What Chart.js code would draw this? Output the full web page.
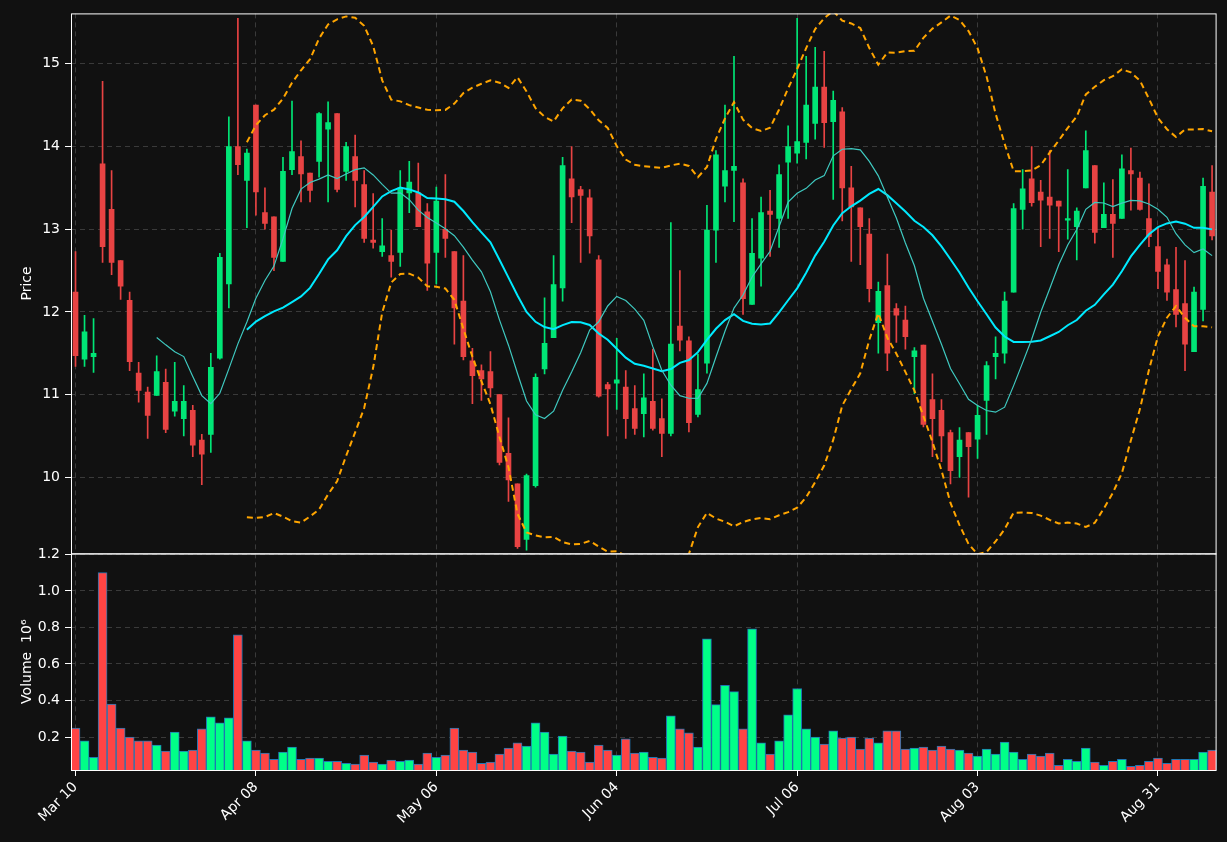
<!DOCTYPE html>
<html>
<head>
<meta charset="utf-8">
<script src="https://cdn.jsdelivr.net/npm/chart.js@4.4.0/dist/chart.umd.min.js"></script>
<style>
  html, body { margin: 0; padding: 0; background: #111111; }
  #wrap { width: 1227px; height: 842px; }
</style>
</head>
<body>
<div id="wrap"><canvas id="chart" width="1227" height="842"></canvas></div>
<script>
// one entry per trading day
const opens  = [12.24,11.43,11.46,13.79,13.24,12.62,12.14,11.26,11.03,10.99,11.15,10.80,10.71,10.81,10.45,10.52,11.44,12.34,14.00,13.59,
                14.50,13.20,13.15,12.61,13.72,13.88,13.68,13.82,14.21,14.40,13.70,13.88,13.54,12.87,12.73,12.68,12.72,13.44,13.44,13.21,
                12.72,13.00,12.73,12.13,11.41,11.29,11.28,11.00,10.29,9.92,9.25,9.90,11.31,11.69,12.29,13.61,13.48,13.38,12.63,11.12,
                11.14,11.09,10.83,10.77,10.92,10.71,10.53,11.83,11.65,10.76,11.38,12.99,13.52,13.71,13.56,12.09,12.65,13.22,13.13,13.81,
                13.92,14.05,14.28,14.72,14.30,14.42,13.50,13.26,12.94,11.87,12.32,12.04,11.90,11.46,11.60,10.94,10.81,10.54,10.25,10.54,
                10.46,10.93,11.46,11.50,12.24,13.24,13.61,13.45,13.39,13.34,13.11,13.03,13.50,13.77,13.02,13.18,13.13,13.71,13.62,13.13,
                12.79,12.57,12.27,12.10,11.52,12.03,13.45];
const highs  = [12.73,11.96,11.92,14.79,13.71,12.62,12.24,11.39,11.09,11.47,11.31,11.39,11.11,10.87,10.52,11.50,12.71,14.36,15.55,13.97,
                14.50,13.50,13.15,13.87,14.55,14.07,13.68,14.41,14.54,14.40,14.05,14.14,13.71,13.43,13.13,12.99,13.71,13.82,13.80,13.31,
                13.51,13.66,12.73,12.68,11.56,11.36,11.52,11.00,10.72,9.92,10.04,11.25,12.17,12.68,13.87,14.00,13.52,13.48,12.68,11.15,
                11.68,11.29,11.11,11.25,11.55,10.95,13.08,12.50,11.70,11.49,13.29,13.95,14.50,15.09,13.61,13.13,13.39,13.47,13.78,14.25,
                15.55,15.09,15.20,15.15,14.67,14.47,13.76,13.26,13.13,12.36,12.70,12.10,12.07,11.57,11.60,11.25,10.94,10.57,10.60,10.54,
                10.87,11.40,11.70,12.24,13.31,13.72,14.00,13.59,13.95,13.34,13.72,13.26,14.19,13.77,13.56,13.60,13.90,13.98,13.69,13.55,
                13.01,12.64,12.78,12.62,12.30,13.62,13.77];
const lows   = [11.34,11.34,11.27,12.60,12.45,12.15,11.29,10.91,10.47,10.99,10.54,10.74,10.50,10.25,9.91,10.30,11.43,12.05,13.66,13.02,
                13.17,13.00,12.50,12.61,13.66,13.33,13.33,13.63,13.33,13.45,13.59,13.27,12.84,12.77,12.67,12.42,12.55,13.20,13.03,12.26,
                12.34,12.66,11.61,11.42,10.89,10.93,10.97,10.15,9.71,9.14,9.12,9.88,11.25,11.69,12.13,13.08,12.60,12.71,10.97,10.50,
                10.82,10.47,10.52,10.49,10.57,10.25,10.50,11.53,10.55,10.73,11.26,12.60,13.33,13.09,11.97,12.09,12.31,12.67,12.78,13.13,
                13.80,13.85,14.09,13.99,13.36,13.10,12.61,12.57,12.12,11.50,11.29,11.63,11.55,11.01,10.61,10.25,10.19,9.92,10.00,9.76,
                10.23,10.52,11.19,11.38,12.24,13.00,13.28,12.79,12.89,12.73,12.88,12.63,13.50,12.83,13.02,12.66,13.13,13.23,13.23,12.79,
                12.28,12.14,11.82,11.29,11.52,11.89,12.87];
const closes = [11.47,11.76,11.50,12.79,12.60,12.31,11.40,11.05,10.75,11.28,10.58,10.92,10.92,10.39,10.28,11.33,12.66,14.00,13.78,13.92,
                13.45,13.07,12.66,13.70,13.94,13.67,13.47,14.40,14.29,13.48,14.00,13.59,12.89,12.84,12.80,12.61,13.50,13.57,13.03,12.59,
                13.34,12.89,12.05,11.46,11.23,11.19,11.08,10.18,9.97,9.16,10.02,11.21,11.62,12.33,13.77,13.39,13.41,12.92,10.98,11.07,
                11.18,10.71,10.59,10.96,10.59,10.53,11.61,11.66,10.66,11.06,12.99,13.90,13.71,13.76,12.16,12.71,13.20,13.18,13.66,14.00,
                14.06,14.50,14.72,14.29,14.56,13.50,13.27,13.03,12.28,12.25,11.50,11.96,11.70,11.53,10.64,10.71,10.50,10.08,10.45,10.37,
                10.75,11.35,11.50,12.13,13.25,13.49,13.32,13.35,13.29,13.28,13.13,13.22,13.95,12.96,13.18,13.07,13.73,13.67,13.24,12.91,
                12.49,12.24,11.97,11.61,12.24,13.52,12.92];
// volume in millions
const volumes = [0.25,0.18,0.09,1.10,0.38,0.25,0.20,0.18,0.18,0.157,0.123,0.228,0.123,0.129,0.245,0.311,0.278,0.306,0.759,0.18,
                 0.129,0.112,0.079,0.118,0.145,0.079,0.085,0.085,0.068,0.068,0.057,0.052,0.101,0.063,0.052,0.074,0.068,0.074,0.052,0.112,
                 0.09,0.101,0.25,0.129,0.118,0.057,0.063,0.107,0.14,0.168,0.151,0.278,0.228,0.107,0.206,0.123,0.118,0.063,0.157,0.129,
                 0.101,0.19,0.112,0.118,0.09,0.085,0.317,0.245,0.223,0.145,0.737,0.378,0.483,0.449,0.245,0.792,0.168,0.107,0.18,0.322,
                 0.466,0.245,0.20,0.162,0.234,0.195,0.20,0.134,0.195,0.168,0.234,0.234,0.134,0.14,0.145,0.129,0.151,0.134,0.129,0.112,
                 0.096,0.134,0.107,0.173,0.118,0.079,0.107,0.096,0.112,0.046,0.079,0.068,0.14,0.063,0.046,0.068,0.079,0.04,0.046,0.068,
                 0.085,0.057,0.079,0.079,0.079,0.118,0.129];

const dateTicks = ["Mar 10", "Apr 08", "May 06", "Jun 04", "Jul 06", "Aug 03", "Aug 31"];
const priceTicks = [10, 11, 12, 13, 14, 15];
const volumeTicks = [0.2, 0.4, 0.6, 0.8, 1.0, 1.2];

const UP = "#00e676", DOWN = "#e84343";
const VUP = "#00ff88", VDOWN = "#ff4444";

const n = closes.length;
const labels = closes.map((_, i) => i);
const isUp = i => closes[i] >= opens[i];

// moving averages and bands from the closes
function sma(p) {
  return closes.map((_, i) => {
    if (i < p - 1) return null;
    let s = 0;
    for (let j = i - p + 1; j <= i; j++) s += closes[j];
    return s / p;
  });
}
const ma10 = sma(10);
const ma20 = sma(20);
const bbUpper = [], bbLower = [];
for (let i = 0; i < n; i++) {
  if (ma20[i] === null) { bbUpper.push(null); bbLower.push(null); continue; }
  let v = 0;
  for (let j = i - 19; j <= i; j++) v += (closes[j] - ma20[i]) ** 2;
  const sd = Math.sqrt(v / 20);
  bbUpper.push(ma20[i] + 2 * sd);
  bbLower.push(ma20[i] - 2 * sd);
}

const gridDash = { display: true, color: "#3a3a3a", lineWidth: 1 };

// white frame around each pane
const framePlugin = {
  id: "frames",
  afterDraw(c) {
    const a = c.chartArea, ctx = c.ctx;
    ctx.save();
    ctx.strokeStyle = "#ffffff";
    ctx.lineWidth = 1;
    ["y", "y2"].forEach(id => {
      const s = c.scales[id];
      ctx.strokeRect(a.left + 0.5, s.top + 0.5, a.right - a.left - 1, s.bottom - s.top);
    });
    ctx.restore();
  }
};

Chart.defaults.font.family = "'DejaVu Sans', sans-serif";
Chart.defaults.font.size = 14;
Chart.defaults.color = "#ffffff";

new Chart(document.getElementById("chart"), {
  data: {
    labels: labels,
    datasets: [
      { type: "line", label: "BB upper", data: bbUpper, yAxisID: "y", borderColor: "#ffa500", borderWidth: 2,
        borderDash: [6, 4], pointRadius: 0, tension: 0, order: 1 },
      { type: "line", label: "BB lower", data: bbLower, yAxisID: "y", borderColor: "#ffa500", borderWidth: 2,
        borderDash: [6, 4], pointRadius: 0, tension: 0, order: 1 },
      { type: "line", label: "MA10", data: ma10, yAxisID: "y", borderColor: "#3fc9c0", borderWidth: 1.2,
        pointRadius: 0, tension: 0, order: 2 },
      { type: "line", label: "MA20", data: ma20, yAxisID: "y", borderColor: "#00eaff", borderWidth: 2,
        pointRadius: 0, tension: 0, order: 2 },
      { type: "bar", label: "wick", data: labels.map(i => [lows[i], highs[i]]), yAxisID: "y",
        backgroundColor: labels.map(i => isUp(i) ? UP : DOWN), barThickness: 1, grouped: false, order: 4 },
      { type: "bar", label: "body", yAxisID: "y",
        data: labels.map(i => {
          const lo = Math.min(opens[i], closes[i]), hi = Math.max(opens[i], closes[i]);
          return [lo, Math.max(hi, lo + 0.02)];
        }),
        backgroundColor: labels.map(i => isUp(i) ? UP : DOWN), barThickness: 5, grouped: false, order: 3 },
      { type: "bar", label: "volume", data: volumes, yAxisID: "y2",
        backgroundColor: labels.map(i => isUp(i) ? VUP : VDOWN), borderColor: "#1f77b4", borderWidth: 1,
        borderSkipped: false, barPercentage: 1, categoryPercentage: 1, grouped: false, order: 5 }
    ]
  },
  options: {
    responsive: false,
    animation: false,
    layout: { padding: { top: 11, right: 10, left: 19, bottom: 0 } },
    plugins: { legend: { display: false }, tooltip: { enabled: false } },
    scales: {
      x: {
        type: "category",
        offset: true,
        grid: {
          display: true, offset: false,
          color: c => (c.index % 20 === 0 ? "#3a3a3a" : "transparent"),
          tickColor: c => (c.index % 20 === 0 ? "#ffffff" : "transparent"),
          tickLength: 6
        },
        border: { display: false, dash: [5, 4] },
        ticks: {
          autoSkip: false, maxRotation: 45, minRotation: 45,
          callback: (v, i) => (i % 20 === 0 ? dateTicks[i / 20] : "")
        },
        afterFit: s => { s.height = 72; }
      },
      y2: {
        position: "left", stack: "panes", stackWeight: 217, offset: false,
        min: 0.02, max: 1.205,
        afterBuildTicks: s => { s.ticks = volumeTicks.map(v => ({ value: v })); },
        grid: { ...gridDash, tickColor: "#ffffff", tickLength: 6 },
        border: { display: false, dash: [5, 4] },
        ticks: { callback: v => v.toFixed(1), padding: 5 },
        title: { display: true, text: "Volume  10\u2076", padding: { top: 0, bottom: 4 } },
        afterFit: s => { s.width = 52; }
      },
      y: {
        position: "left", stack: "panes", stackWeight: 541, offset: false,
        min: 9.08, max: 15.61,
        afterBuildTicks: s => { s.ticks = priceTicks.map(v => ({ value: v })); },
        grid: { ...gridDash, tickColor: "#ffffff", tickLength: 6 },
        border: { display: false, dash: [5, 4] },
        ticks: { callback: v => v, padding: 5 },
        title: { display: true, text: "Price", padding: { top: 0, bottom: 4 } },
        afterFit: s => { s.width = 52; }
      }
    }
  },
  plugins: [framePlugin]
});
</script>
</body>
</html>
